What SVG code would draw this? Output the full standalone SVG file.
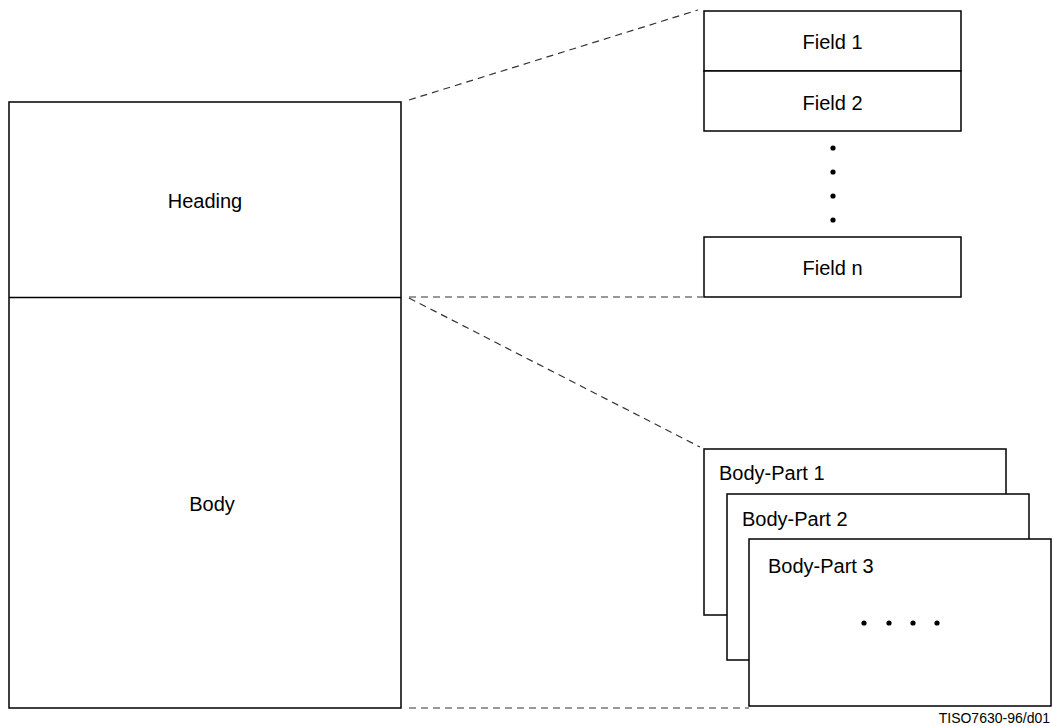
<svg xmlns="http://www.w3.org/2000/svg" width="1052" height="726" viewBox="0 0 1052 726">
<style>
.box{fill:#fff;stroke:#000;stroke-width:1.5}
.ln{stroke:#000;stroke-width:1.5}
.dash{fill:none;stroke:#333;stroke-width:1.2;stroke-dasharray:7,5}
.t{font-family:"Liberation Sans",Arial,sans-serif;font-size:20px;fill:#000}
.c{text-anchor:middle}
</style>
<rect width="1052" height="726" fill="#fff"/>
<g id="connectors">
<line class="dash" x1="409" y1="100" x2="698" y2="10"/>
<line class="dash" x1="409" y1="297" x2="703" y2="297"/>
<line class="dash" x1="409" y1="298" x2="700" y2="447"/>
<line class="dash" x1="409" y1="708" x2="749" y2="708"/>
</g>
<g id="document">
<rect class="box" x="9" y="102" width="392" height="606"/>
<line class="ln" x1="9" y1="297.5" x2="401" y2="297.5"/>
</g>
<g id="heading"><text class="t c" x="205" y="208">Heading</text></g>
<g id="body"><text class="t c" x="212" y="511">Body</text></g>
<g id="field1">
<rect class="box" x="704" y="11" width="257" height="60"/>
<text class="t c" x="832.5" y="49">Field 1</text>
</g>
<g id="field2">
<rect class="box" x="704" y="71" width="257" height="60"/>
<text class="t c" x="832.5" y="110">Field 2</text>
</g>
<g id="field-dots" fill="#000">
<circle cx="833" cy="148" r="2.6"/>
<circle cx="833" cy="172" r="2.6"/>
<circle cx="833" cy="196" r="2.6"/>
<circle cx="833" cy="220" r="2.6"/>
</g>
<g id="fieldn">
<rect class="box" x="704" y="237" width="257" height="60"/>
<text class="t c" x="832.5" y="275">Field n</text>
</g>
<g id="bodypart1">
<rect class="box" x="704" y="449" width="302" height="166"/>
<text class="t" x="719" y="480">Body-Part 1</text>
</g>
<g id="bodypart2">
<rect class="box" x="727" y="494" width="302" height="166"/>
<text class="t" x="742" y="526">Body-Part 2</text>
</g>
<g id="bodypart3">
<rect class="box" x="749" y="539" width="302" height="167"/>
<text class="t" x="768" y="573">Body-Part 3</text>
<g fill="#000">
<circle cx="864" cy="623" r="2.6"/>
<circle cx="889" cy="623" r="2.6"/>
<circle cx="913" cy="623" r="2.6"/>
<circle cx="937" cy="623" r="2.6"/>
</g>
</g>
<text x="1050" y="723" font-family="Liberation Sans, Arial, sans-serif" font-size="14" text-anchor="end" fill="#000">TISO7630-96/d01</text>
</svg>
